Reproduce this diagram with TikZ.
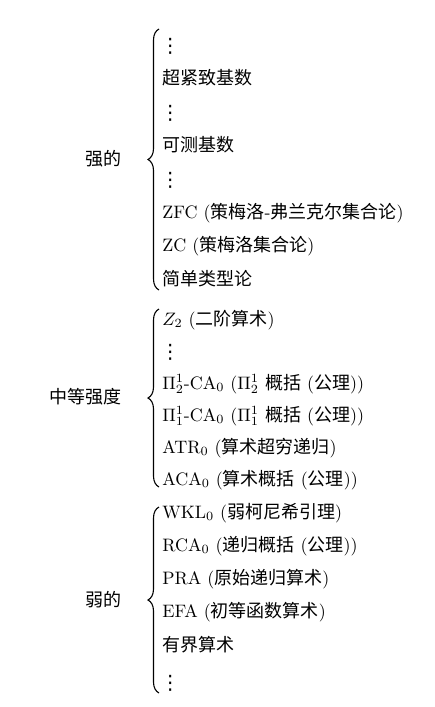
\documentclass[tikz,border=0pt]{standalone}
\usepackage{fontspec}
\usetikzlibrary{decorations.pathreplacing}
\newfontfamily\zhfont{Noto Sans CJK SC}
\newfontfamily\symfont[Scale=1.1]{DejaVu Sans}
\newcommand{\zh}[1]{{\zhfont #1}}
\newcommand{\rowdots}{{\symfont ⋮}}

\begin{document}
\begin{tikzpicture}[x=1pt, y=-1pt, every node/.style={scale=1.8},
        item/.style={anchor=base west, inner sep=0pt},
        grp/.style={anchor=east, inner sep=0pt},
        brc/.style={decorate, decoration={brace, amplitude=11pt}, line width=1.1pt}
      ]
        \useasboundingbox (0,0) rectangle (434,707);
        % strong
        \node[grp] (strong) at (122,159) {\zh{强的}};
        \node[item] (s1) at (160, 52)   {\rowdots};
        \node[item] (s2) at (162, 84)   {\zh{超紧致基数}};
        \node[item] (s3) at (160,119)   {\rowdots};
        \node[item] (s4) at (162,151)   {\zh{可测基数}};
        \node[item] (s5) at (160,186)   {\rowdots};
        \node[item] (s6) at (162,218)   {ZFC (\zh{策梅洛}-\zh{弗兰克尔集合论})};
        \node[item] (s7) at (162,251.5) {ZC (\zh{策梅洛集合论})};
        \node[item] (s8) at (162,285)   {\zh{简单类型论}};
        % medium
        \node[grp] (medium) at (122,397) {\zh{中等强度}};
        \node[item] (m1) at (162,325) {$Z_2$ (\zh{二阶算术})};
        \node[item] (m2) at (160,358) {\rowdots};
        \node[item] (m3) at (162,389) {$\Pi^1_2$-CA$_0$ ($\Pi^1_2$ \zh{概括} (\zh{公理}))};
        \node[item] (m4) at (162,421) {$\Pi^1_1$-CA$_0$ ($\Pi^1_1$ \zh{概括} (\zh{公理}))};
        \node[item] (m5) at (162,453) {ATR$_0$ (\zh{算术超穷递归})};
        \node[item] (m6) at (162,485) {ACA$_0$ (\zh{算术概括} (\zh{公理}))};
        % weak
        \node[grp] (weak) at (122,600) {\zh{弱的}};
        \node[item] (w1) at (162,518)    {WKL$_0$ (\zh{弱柯尼希引理})};
        \node[item] (w2) at (162,551.25) {RCA$_0$ (\zh{递归概括} (\zh{公理}))};
        \node[item] (w3) at (162,584.5)  {PRA (\zh{原始递归算术})};
        \node[item] (w4) at (162,617.75) {EFA (\zh{初等函数算术})};
        \node[item] (w5) at (162,651)    {\zh{有界算术}};
        \node[item] (w6) at (160,689)    {\rowdots};
        % braces
        \coordinate (stop) at (159,29);  \coordinate (sbot) at (159,290);
        \coordinate (mtop) at (159,309); \coordinate (mbot) at (159,487);
        \coordinate (wtop) at (159,507); \coordinate (wbot) at (159,693);
        \foreach \g in {s,m,w} { \draw[brc] (\g bot) -- (\g top); }
      \end{tikzpicture}
\end{document}
